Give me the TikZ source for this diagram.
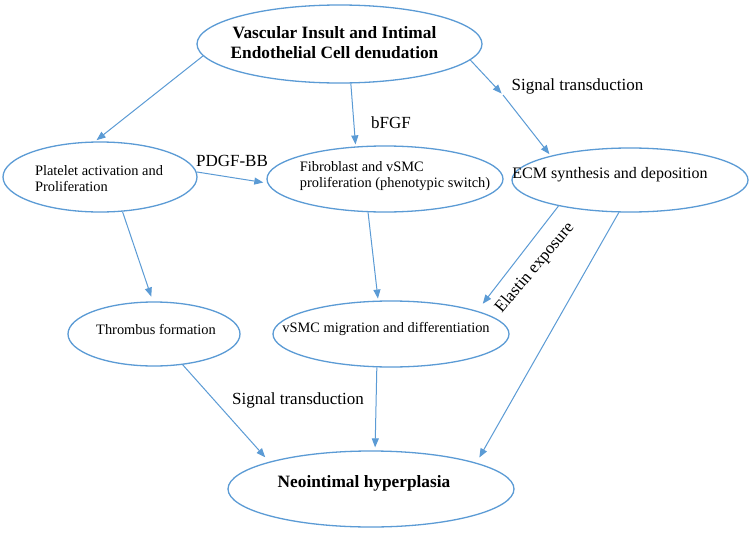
\documentclass[tikz,border=0pt]{standalone}
\usepackage{fontspec}
\setmainfont{Liberation Serif}
\usetikzlibrary{shapes.geometric,arrows.meta}
\definecolor{lineblue}{HTML}{5B9BD5}
\begin{document}
\begin{tikzpicture}[x=1pt,y=-1pt,
  oval/.style={draw=lineblue, line width=1.3pt, ellipse, inner sep=0pt},
  arr/.style={draw=lineblue, line width=1pt, -{Triangle[length=9pt,width=7pt]}, shorten >=2pt},
  txt/.style={font=\fontsize{14.4}{16}\selectfont, align=left, inner sep=0pt},
  bold/.style={font=\fontsize{17.3}{20}\selectfont\bfseries, align=center, inner sep=0pt},
  lbl/.style={font=\fontsize{17}{20}\selectfont, inner sep=0pt}]
\useasboundingbox[fill=white] (0,0) rectangle (750,533);
% ellipses
\node[oval, minimum width=285pt, minimum height=78pt] (top) at (339.5,44) {};
\node[oval, minimum width=194pt, minimum height=70pt] (plat) at (100,177) {};
\node[oval, minimum width=236pt, minimum height=66pt] (fib) at (385,179) {};
\node[oval, minimum width=236pt, minimum height=64pt] (ecm) at (630,180) {};
\node[oval, minimum width=172pt, minimum height=64pt] (thr) at (154,334) {};
\node[oval, minimum width=236pt, minimum height=66pt] (vsmc) at (391,334) {};
\node[oval, minimum width=286pt, minimum height=76pt] (neo) at (371,489) {};
% texts
\node[bold] (topt) at (334.5,43) {Vascular Insult and Intimal\\Endothelial Cell denudation};
\node[txt] (platt) at (99,179) {Platelet activation and\\Proliferation};
\node[txt] (fibt) at (395,176) {Fibroblast and vSMC\\proliferation (phenotypic switch)};
\node[txt, font=\fontsize{16}{18}\selectfont] (ecmt) at (610,175) {ECM synthesis and deposition};
\node[txt] (thrt) at (156,329) {Thrombus formation};
\node[txt] (vsmct) at (386,329) {vSMC migration and differentiation};
\node[bold] (neot) at (364,483) {Neointimal hyperplasia};
% labels
\node[lbl] (l1) at (391,123) {bFGF};
\node[lbl] (l2) at (577.5,86) {Signal transduction};
\node[lbl] (l3) at (232,161) {PDGF-BB};
\node[lbl, rotate=50] (l4) at (535,268) {Elastin exposure};
\node[lbl] (l5) at (298,400) {Signal transduction};
% connectors
\coordinate (m1) at (503,95);
\draw[arr] (top.185.5) -- (plat.98);
\draw[arr] (top.-74) -- (fib.132);
\draw[arr] (top.-7) -- (m1);
\draw[arr] (m1) -- (ecm.163);
\draw[arr, shorten >=4pt] (plat.3) -- (fib.182);
\draw[arr, shorten >=5pt] (plat.-57) -- (thr.92);
\draw[arr] (fib.-117.5) -- (vsmc.111.6);
\draw[arr, shorten >=9pt] (ecm.-160.6) -- (vsmc.15.6);
\draw[arr, shorten >=6pt] (ecm.-109) -- (neo.14.6);
\draw[arr, shorten >=6pt] (thr.-47) -- (neo.165);
\draw[arr, shorten >=3pt] (vsmc.-113) -- (neo.84);
\end{tikzpicture}
\end{document}
